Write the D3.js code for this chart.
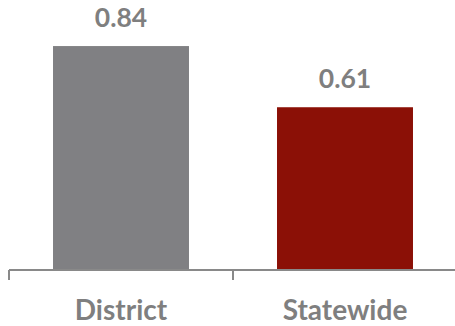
<!DOCTYPE html>
<html>
<head>
<meta charset="utf-8">
<script src="https://cdn.jsdelivr.net/npm/d3@7"></script>
<style>
  html, body { margin: 0; padding: 0; background: #fff; }
  svg { display: block; }
  text { font-family: Lato, "Open Sans", "Liberation Sans", sans-serif; font-weight: 700; fill: #7f7f7f; }
</style>
</head>
<body>
<svg id="chart" width="455" height="326"></svg>
<script>
const categories = ["District", "Statewide"];
const values = [0.84, 0.61];
const valueLabels = ["0.84", "0.61"];
const colors = ["#808083", "#8b1006"];

const svg = d3.select("#chart");

const x = d3.scaleBand()
  .domain(categories)
  .range([9, 457])
  .paddingInner(0.393)
  .paddingOuter(0.1965);

const y = d3.scaleLinear().domain([0, 1]).range([269.5, 3.5]);

// bars
svg.selectAll("rect.bar")
  .data(categories)
  .join("rect")
  .attr("class", "bar")
  .attr("x", d => x(d))
  .attr("width", x.bandwidth())
  .attr("y", (d, i) => y(values[i]))
  .attr("height", (d, i) => y(0) - y(values[i]))
  .attr("fill", (d, i) => colors[i]);

// value labels
svg.selectAll("text.val")
  .data(categories)
  .join("text")
  .attr("class", "val")
  .attr("x", d => x(d) + x.bandwidth() / 2)
  .attr("y", (d, i) => y(values[i]) - 19)
  .attr("text-anchor", "middle")
  .attr("font-size", 26.5)
  .text((d, i) => valueLabels[i]);

// axis line with boundary ticks
const step = x.step();
const axisY = 270;
svg.append("line")
  .attr("x1", x.range()[0]).attr("x2", x.range()[1])
  .attr("y1", axisY).attr("y2", axisY)
  .attr("stroke", "#898989").attr("stroke-width", 2);

const boundaries = categories.map(d => x(d) - x.paddingInner() * step / 2);
boundaries.push(x.range()[1]);
svg.selectAll("line.tick")
  .data(boundaries)
  .join("line")
  .attr("class", "tick")
  .attr("x1", d => d).attr("x2", d => d)
  .attr("y1", axisY).attr("y2", 280)
  .attr("stroke", "#898989").attr("stroke-width", 2);

// category labels
svg.selectAll("text.cat")
  .data(categories)
  .join("text")
  .attr("class", "cat")
  .attr("x", d => x(d) + x.bandwidth() / 2)
  .attr("y", 320)
  .attr("text-anchor", "middle")
  .attr("font-size", 28)
  .text(d => d);
</script>
</body>
</html>
